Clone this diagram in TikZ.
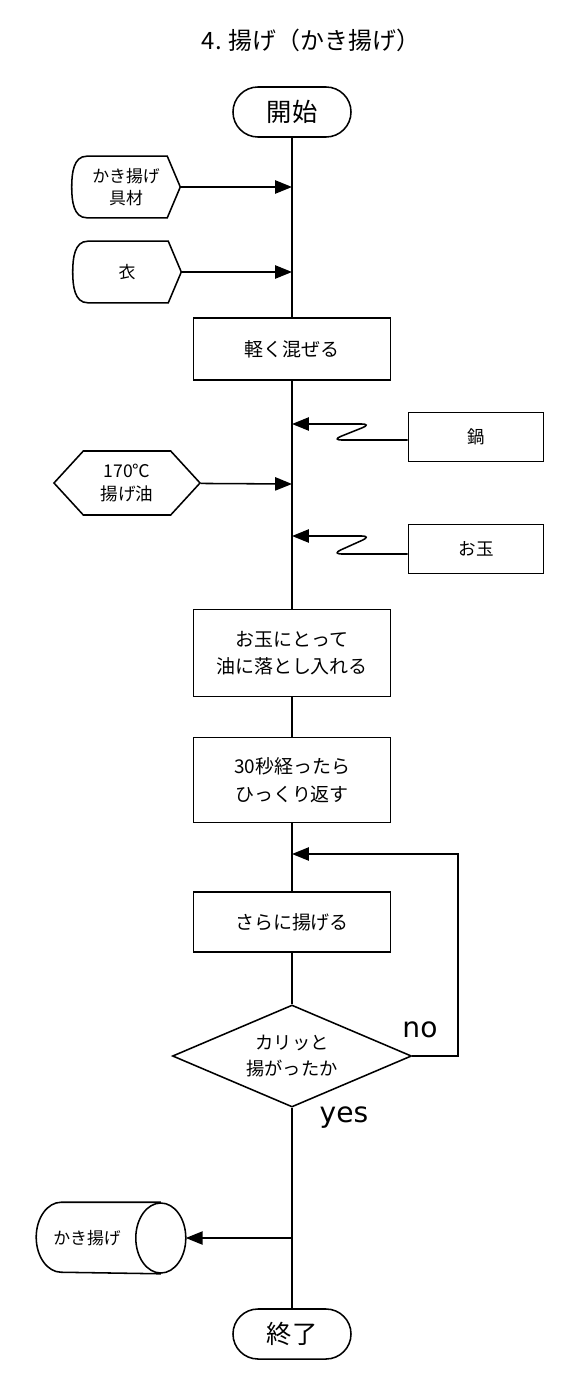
\documentclass[tikz,border=0pt]{standalone}
\usepackage{fontspec}
\setmainfont{Noto Sans CJK JP}
\newfontfamily\latinfont{DejaVu Sans}
\usepackage{tikz}
\usetikzlibrary{arrows.meta,positioning,shapes.geometric,shapes.symbols,calc}

% outline of an input (display) symbol: rounded left side, pointed right side
\newcommand{\inshape}[1]{%
  \draw ($(#1.south west)+(15,0)$) to[out=180,in=270] (#1.west) to[out=90,in=180] ($(#1.north west)+(15,0)$)
    -- ($(#1.north east)+(-13,0)$) -- (#1.east) -- ($(#1.south east)+(-13,0)$) -- cycle;}
% outline of a stored data symbol lying on its side
\newcommand{\drumshape}[1]{%
  \draw ($(#1.east)+(-25,0)$) ellipse [x radius=0.625cm, y radius=0.875cm];
  \draw ($(#1.north east)+(-25,0)$) -- ($(#1.north west)+(25,0)$)
    arc [start angle=90, end angle=270, x radius=0.625cm, y radius=0.875cm] -- ($(#1.south east)+(-25,0)$);}

\begin{document}
\begin{tikzpicture}[x=0.025cm, y=-0.025cm, line width=1.1pt, >={Triangle[length=4.2mm,width=3.3mm]},
  term node/.style={rectangle,draw,rounded corners=0.625cm,minimum width=2.95cm,minimum height=1.25cm,inner sep=0pt,font=\fontsize{18}{20}\selectfont},
  step node/.style={rectangle,draw,minimum width=4.925cm,inner sep=0pt,align=center,font=\fontsize{13.5}{19.5}\selectfont},
  tool node/.style={rectangle,draw,minimum width=3.375cm,minimum height=1.225cm,inner sep=0pt,font=\fontsize{12.5}{14}\selectfont},
  in node/.style={minimum width=2.675cm,minimum height=1.5cm,inner sep=0pt,align=center,font=\fontsize{12}{16}\selectfont}]
\useasboundingbox (0,0) rectangle (584,1392);
\node[font=\fontsize{17}{20}\selectfont] (title) at (311,40) {4. 揚げ（かき揚げ）};
\node[term node] (start) at (292,112) {開始};
\node[in node] (ingr) at (126,187) {かき揚げ\\具材};
\node[in node] (batter) at (127,272) {衣};
\inshape{ingr}
\inshape{batter}
\node[step node,minimum height=1.55cm] (mix) at (292,349) {軽く混ぜる};
\node[tool node] (pot) at (476,437) {鍋};
\node[signal,signal to=east and west,signal pointer angle=95,draw,minimum width=3.65cm,minimum height=1.6cm,inner sep=0pt,align=center,font=\fontsize{12.5}{16}\selectfont] (oil) at (127,483) {170℃\\揚げ油};
\node[tool node] (ladle) at (476,549) {お玉};
\node[step node,minimum height=2.175cm] (drop) at (292,653) {お玉にとって\\油に落とし入れる};
\node[step node,minimum height=2.125cm] (flip) at (292,780) {30秒経ったら\\ひっくり返す};
\node[step node,minimum height=1.5cm] (more) at (292,922) {さらに揚げる};
\node[diamond,draw,minimum width=5.975cm,minimum height=2.55cm,inner sep=0pt] (check) at (292,1056) {};
\node[align=center,font=\fontsize{13}{18}\selectfont] (checktext) at (check) {カリッと\\揚がったか};
\node[minimum width=3.7cm,minimum height=1.75cm,inner sep=0pt] (fried) at (111,1238) {};
\drumshape{fried}
\node[font=\fontsize{12}{14}\selectfont] (friedtext) at (87,1238) {かき揚げ};
\node[term node] (end) at (292,1334) {終了};
\node[font=\latinfont\fontsize{20}{22}\selectfont] (no) at (420,1030) {no};
\node[font=\latinfont\fontsize{20}{22}\selectfont] (yes) at (344,1118) {yes};
% points on the main line
\coordinate (p1) at (292,187);
\coordinate (p2) at (292,272);
\coordinate (p3) at (292,424);
\coordinate (p4) at (292,484);
\coordinate (p5) at (292,536);
\coordinate (p6) at (292,854);
\coordinate (p7) at (292,1238);
\coordinate (q1) at (458,1056);
\draw (start) -- (mix);
\draw (mix) -- (drop);
\draw (drop) -- (flip);
\draw (flip) -- (more);
\draw (more) -- (check);
\draw (check) -- (end);
\draw[->] (ingr) -- (p1);
\draw[->] (batter) -- (p2);
\draw[->] (oil) -- (p4);
\draw[->,rounded corners=7pt] (pot.west) ++(0,3) -- ++(-76,0) -- ++(40,-16) -- (p3);
\draw[->,rounded corners=7pt] (ladle.west) ++(0,5) -- ++(-76,0) -- ++(40,-18) -- (p5);
\draw[->] (check.east) -- (q1) |- (p6);
\draw[->] (p7) -- (fried.east);
\end{tikzpicture}
\end{document}
